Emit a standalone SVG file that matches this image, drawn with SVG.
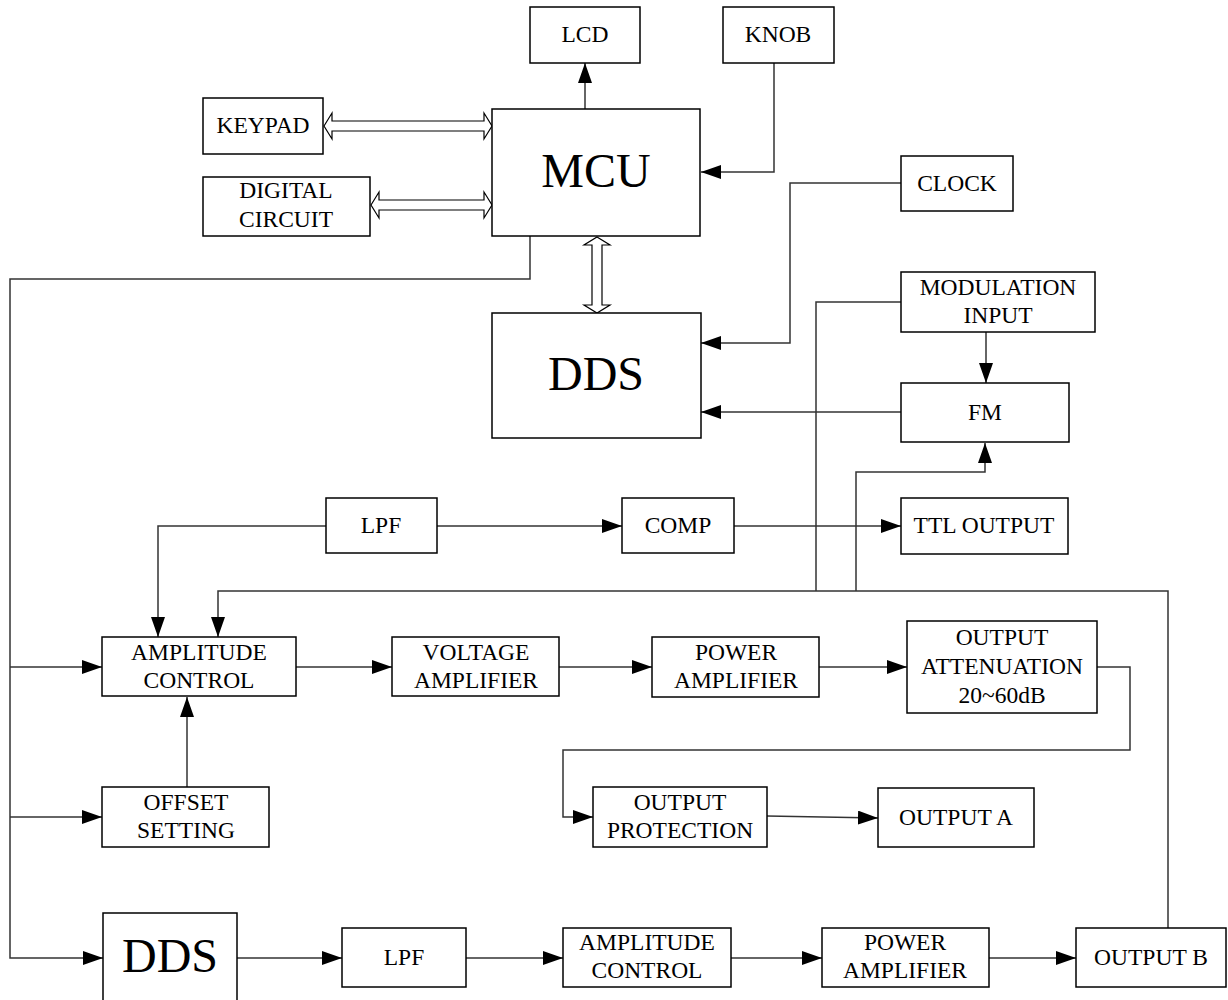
<svg xmlns="http://www.w3.org/2000/svg" width="1228" height="1000" viewBox="0 0 1228 1000">
<defs>
<style>
.box{fill:#fff;stroke:#000;stroke-width:1.5}
.t{font-family:"Liberation Serif","Times New Roman",serif;font-size:23.5px;fill:#000;text-anchor:middle}
.big{font-family:"Liberation Serif","Times New Roman",serif;font-size:48px;fill:#000;text-anchor:middle}
.c{fill:none;stroke:#333;stroke-width:1.5}
.ca{fill:none;stroke:#333;stroke-width:1.5;marker-end:url(#ah)}
.hollow{fill:#fff;stroke:#000;stroke-width:1.2}
</style>
<marker id="ah" markerUnits="userSpaceOnUse" markerWidth="20" markerHeight="14" refX="20" refY="7" orient="auto">
<path d="M0,0 L20,7 L0,14 Z" fill="#000"/>
</marker>
</defs>
<rect width="1228" height="1000" fill="#fff"/>

<g id="connectors">
<path class="ca" d="M585,109 V63"/>
<path class="ca" d="M774,63 V172 H701"/>
<path class="ca" d="M901,183 H790 V343 H701"/>
<path class="ca" d="M901,412 H701"/>
<path class="ca" d="M986,332 V383"/>
<path class="c" d="M901,302 H816 V591"/>
<path class="ca" d="M856,591 V472 H985 V443"/>
<path class="ca" d="M1168,928 V591 H218 V637"/>
<path class="ca" d="M326,526 H158 V637"/>
<path class="ca" d="M437,526 H622"/>
<path class="ca" d="M734,526 H901"/>
<path class="ca" d="M530,236 V279 H10 V958 H103"/>
<path class="ca" d="M10,667 H102"/>
<path class="ca" d="M10,817 H102"/>
<path class="ca" d="M187,787 V697"/>
<path class="ca" d="M296,667 H392"/>
<path class="ca" d="M559,667 H652"/>
<path class="ca" d="M819,667 H907"/>
<path class="ca" d="M1097,667 H1130 V750 H563 V817 H593"/>
<path class="ca" d="M767,816 L878,818"/>
<path class="ca" d="M237,958 H342"/>
<path class="ca" d="M466,958 H563"/>
<path class="ca" d="M731,958 H822"/>
<path class="ca" d="M989,958 H1076"/>
<polygon class="hollow" points="324,126 332,113 332,121 484,121 484,113 492,126 484,139 484,131 332,131 332,139"/>
<polygon class="hollow" points="371,205 379,192 379,200 484,200 484,192 492,205 484,218 484,210 379,210 379,218"/>
<polygon class="hollow" points="597,237 610,245 602,245 602,305 610,305 597,313 584,305 592,305 592,245 584,245"/>
</g>

<g id="lcd"><rect class="box" x="530" y="7" width="110" height="56"/><text class="t" x="585" y="42">LCD</text></g>
<g id="knob"><rect class="box" x="723" y="7" width="111" height="56"/><text class="t" x="778" y="42">KNOB</text></g>
<g id="keypad"><rect class="box" x="203" y="98" width="120" height="56"/><text class="t" x="263" y="133">KEYPAD</text></g>
<g id="digital"><rect class="box" x="203" y="177" width="167" height="59"/><text class="t" x="286" y="198">DIGITAL</text><text class="t" x="286" y="227">CIRCUIT</text></g>
<g id="mcu"><rect class="box" x="492" y="109" width="208" height="127"/><text class="big" x="596" y="187">MCU</text></g>
<g id="clock"><rect class="box" x="901" y="156" width="112" height="55"/><text class="t" x="957" y="191">CLOCK</text></g>
<g id="modinput"><rect class="box" x="901" y="272" width="194" height="60"/><text class="t" x="998" y="295">MODULATION</text><text class="t" x="998" y="323">INPUT</text></g>
<g id="dds1"><rect class="box" x="492" y="313" width="209" height="125"/><text class="big" x="596" y="390">DDS</text></g>
<g id="fm"><rect class="box" x="901" y="383" width="168" height="59"/><text class="t" x="985" y="420">FM</text></g>
<g id="lpf1"><rect class="box" x="326" y="498" width="111" height="55"/><text class="t" x="381" y="533">LPF</text></g>
<g id="comp"><rect class="box" x="622" y="498" width="112" height="55"/><text class="t" x="678" y="533">COMP</text></g>
<g id="ttl"><rect class="box" x="901" y="498" width="167" height="56"/><text class="t" x="984" y="533">TTL OUTPUT</text></g>
<g id="amp1"><rect class="box" x="102" y="637" width="194" height="59"/><text class="t" x="199" y="660">AMPLITUDE</text><text class="t" x="199" y="688">CONTROL</text></g>
<g id="volt"><rect class="box" x="392" y="637" width="167" height="59"/><text class="t" x="476" y="660">VOLTAGE</text><text class="t" x="476" y="688">AMPLIFIER</text></g>
<g id="pow1"><rect class="box" x="652" y="637" width="167" height="60"/><text class="t" x="736" y="660">POWER</text><text class="t" x="736" y="688">AMPLIFIER</text></g>
<g id="atten"><rect class="box" x="907" y="621" width="190" height="92"/><text class="t" x="1002" y="645">OUTPUT</text><text class="t" x="1002" y="674">ATTENUATION</text><text class="t" x="1002" y="703">20~60dB</text></g>
<g id="offset"><rect class="box" x="102" y="787" width="167" height="60"/><text class="t" x="186" y="810">OFFSET</text><text class="t" x="186" y="838">SETTING</text></g>
<g id="protect"><rect class="box" x="593" y="787" width="174" height="60"/><text class="t" x="680" y="810">OUTPUT</text><text class="t" x="680" y="838">PROTECTION</text></g>
<g id="outa"><rect class="box" x="878" y="788" width="156" height="59"/><text class="t" x="956" y="825">OUTPUT A</text></g>
<g id="dds2"><rect class="box" x="103" y="913" width="134" height="100"/><text class="big" x="170" y="972">DDS</text></g>
<g id="lpf2"><rect class="box" x="342" y="928" width="124" height="59"/><text class="t" x="404" y="965">LPF</text></g>
<g id="amp2"><rect class="box" x="563" y="928" width="168" height="59"/><text class="t" x="647" y="950">AMPLITUDE</text><text class="t" x="647" y="978">CONTROL</text></g>
<g id="pow2"><rect class="box" x="822" y="928" width="167" height="59"/><text class="t" x="905" y="950">POWER</text><text class="t" x="905" y="978">AMPLIFIER</text></g>
<g id="outb"><rect class="box" x="1076" y="928" width="150" height="59"/><text class="t" x="1151" y="965">OUTPUT B</text></g>
</svg>
